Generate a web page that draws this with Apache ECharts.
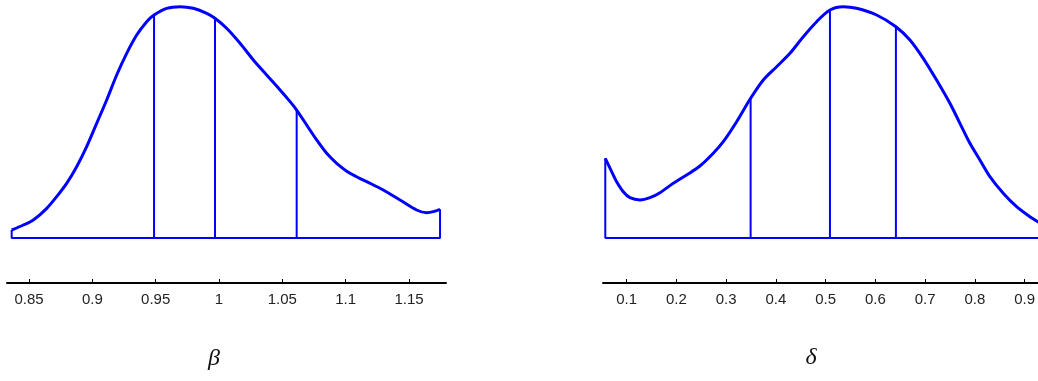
<!DOCTYPE html>
<html>
<head>
<meta charset="utf-8">
<script src="https://cdn.jsdelivr.net/npm/echarts@6/dist/echarts.min.js"></script>
<style>
  html, body { margin: 0; padding: 0; background: #fff; }
  #chart { width: 1038px; height: 381px; }
</style>
</head>
<body>
<div id="chart"></div>
<script>
// Posterior density of beta: sample points (value, density)
const betaX = [0.8363, 0.8455, 0.8534, 0.8640, 0.8718, 0.8797, 0.8876, 0.8955, 0.9034, 0.9113,
               0.9192, 0.9271, 0.9350, 0.9429, 0.9487, 0.9587, 0.9692, 0.9797, 0.9903, 0.9968,
               1.0060, 1.0166, 1.0271, 1.0376, 1.0482, 1.0561, 1.0613, 1.0692, 1.0771, 1.0850,
               1.0929, 1.1034, 1.1166, 1.1297, 1.1429, 1.1560, 1.1639, 1.1692, 1.1745];
const betaY = [0.216, 0.351, 0.486, 0.802, 1.117, 1.477, 1.928, 2.468, 3.099, 3.730,
               4.405, 4.991, 5.486, 5.847, 6.027, 6.207, 6.252, 6.207, 6.072, 5.937,
               5.667, 5.261, 4.811, 4.405, 4.000, 3.685, 3.459, 3.054, 2.649, 2.288,
               2.018, 1.748, 1.523, 1.297, 1.027, 0.757, 0.685, 0.712, 0.775];
// Quartiles of beta
const betaQ = [0.9487, 0.9968, 1.0613];
const betaTicks = [0.85, 0.9, 0.95, 1, 1.05, 1.1, 1.15];

// Posterior density of delta
const deltaX = [0.0570, 0.0698, 0.0798, 0.0932, 0.1066, 0.1267, 0.1468, 0.1669, 0.1937, 0.2205,
                0.2473, 0.2741, 0.2942, 0.3211, 0.3492, 0.3747, 0.4015, 0.4283, 0.4551, 0.4819,
                0.5087, 0.5354, 0.5622, 0.6025, 0.6413, 0.6695, 0.6962, 0.7231, 0.7499, 0.7700,
                0.7901, 0.8102, 0.8303, 0.8571, 0.8839, 0.9107, 0.9267, 0.9450];
const deltaY = [0.797, 0.663, 0.563, 0.463, 0.403, 0.380, 0.403, 0.453, 0.547, 0.630,
                0.720, 0.847, 0.963, 1.163, 1.397, 1.580, 1.713, 1.847, 2.013, 2.163,
                2.280, 2.313, 2.297, 2.230, 2.113, 1.980, 1.797, 1.580, 1.347, 1.147,
                0.947, 0.780, 0.613, 0.447, 0.313, 0.213, 0.163, 0.110];
// Quartiles of delta
const deltaQ = [0.3492, 0.5087, 0.6413];
const deltaTicks = [0.1, 0.2, 0.3, 0.4, 0.5, 0.6, 0.7, 0.8, 0.9];

const BLUE = '#0000ff';

function pairs(xs, ys) { return xs.map((x, i) => [x, ys[i]]); }

// density height at a given value (quartiles sit on sample points)
function densityAt(xs, ys, q) {
  for (let i = 0; i < xs.length - 1; i++) {
    if (q >= xs[i] && q <= xs[i + 1]) {
      const t = (q - xs[i]) / (xs[i + 1] - xs[i]);
      return ys[i] + t * (ys[i + 1] - ys[i]);
    }
  }
  return 0;
}

function panelSeries(idx, xs, ys, qs, openRight) {
  const out = [];
  out.push({
    type: 'line', xAxisIndex: idx, yAxisIndex: idx,
    data: pairs(xs, ys), smooth: 0.3, showSymbol: false, symbol: 'none',
    lineStyle: { color: BLUE, width: 3 }, silent: true, z: 3
  });
  const n = xs.length - 1;
  const frame = openRight
    ? [[xs[0], ys[0]], [xs[0], 0], [xs[n], 0]]
    : [[xs[0], ys[0]], [xs[0], 0], [xs[n], 0], [xs[n], ys[n]]];
  out.push({
    type: 'line', xAxisIndex: idx, yAxisIndex: idx,
    data: frame, showSymbol: false, symbol: 'none',
    lineStyle: { color: BLUE, width: 2 }, silent: true, z: 2
  });
  qs.forEach(q => {
    out.push({
      type: 'line', xAxisIndex: idx, yAxisIndex: idx,
      data: [[q, 0], [q, densityAt(xs, ys, q)]], showSymbol: false, symbol: 'none',
      lineStyle: { color: BLUE, width: 2 }, silent: true, z: 2
    });
  });
  return out;
}

function fmt(v) { return String(+v.toFixed(2)); }

function xAxis(idx, min, max, ticks) {
  return {
    type: 'value', gridIndex: idx, min: min, max: max, offset: 45,
    splitLine: { show: false },
    axisLine: { show: true, onZero: false, lineStyle: { color: '#000', width: 2 } },
    axisTick: { show: true, inside: true, length: 4, customValues: ticks,
                lineStyle: { color: '#000', width: 1 } },
    axisLabel: { show: true, customValues: ticks, formatter: fmt, margin: 9,
                 color: '#222', fontFamily: 'Liberation Sans, Arial, sans-serif', fontSize: 15 }
  };
}

function yAxis(idx, max) {
  return { type: 'value', gridIndex: idx, min: 0, max: max, show: false };
}

const chart = echarts.init(document.getElementById('chart'), null, { renderer: 'canvas' });
chart.setOption({
  animation: false,
  backgroundColor: '#fff',
  grid: [
    { left: 7, width: 439, top: 0, height: 238 },
    { left: 603, width: 435, top: 0, height: 238 }
  ],
  xAxis: [
    xAxis(0, 0.8326, 1.1792, betaTicks),
    xAxis(1, 0.0524, 0.927, deltaTicks)
  ],
  yAxis: [yAxis(0, 6.432), yAxis(1, 2.38)],
  series: [].concat(
    panelSeries(0, betaX, betaY, betaQ, false),
    panelSeries(1, deltaX, deltaY, deltaQ, true)
  ),
  graphic: [
    { type: 'text', x: 214, y: 359, style: { text: 'β', fill: '#111', align: 'center', verticalAlign: 'middle',
      font: 'italic 24px "Liberation Serif", "DejaVu Serif", serif' } },
    { type: 'text', x: 811, y: 358, style: { text: 'δ', fill: '#111', align: 'center', verticalAlign: 'middle',
      font: 'italic 24px "Liberation Serif", "DejaVu Serif", serif' } }
  ]
});
</script>
</body>
</html>
